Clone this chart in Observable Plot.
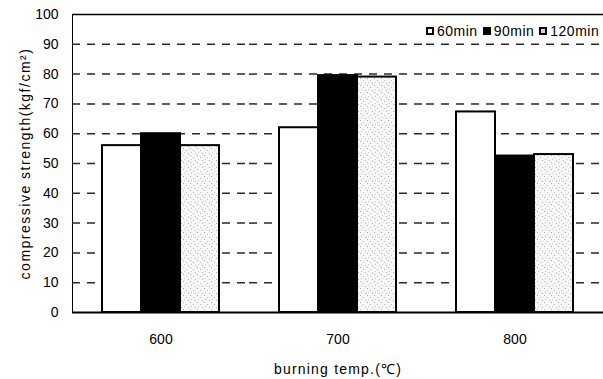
<!DOCTYPE html>
<html>
<head>
<meta charset="utf-8">
<script src="https://cdn.jsdelivr.net/npm/d3@7"></script>
<script src="https://cdn.jsdelivr.net/npm/@observablehq/plot@0.6"></script>
<style>
  html, body { margin: 0; padding: 0; background: white; }
  #wrap { position: relative; width: 603px; height: 379px; font-family: "Liberation Sans", Arial, sans-serif; }
  #legend { position: absolute; top: 23px; left: 426px; display: flex; align-items: center; font-size: 14px; letter-spacing: 0.5px; color: black; }
  #legend .item { display: flex; align-items: center; margin-right: 5px; }
  #legend .box { width: 8px; height: 8px; box-sizing: border-box; border: 2px solid black; margin-right: 3px; }
</style>
</head>
<body>
<div id="wrap"><div id="legend"></div></div>
<script>
const groups = ["600", "700", "800"];
const series = ["60min", "90min", "120min"];
const values60 = [56, 62, 67.3];
const values90 = [60, 79.5, 52.5];
const values120 = [56, 79, 53];
const yTicks = [0, 10, 20, 30, 40, 50, 60, 70, 80, 90, 100];
const gridTicks = [10, 20, 30, 40, 50, 60, 70, 80, 90];
const fills = ["white", "black", "url(#stipple)"];

const seriesValues = [values60, values90, values120];
const data = [];
groups.forEach((g, gi) => series.forEach((s, si) => data.push({group: g, series: s, value: seriesValues[si][gi]})));

const chart = Plot.plot({
  width: 603,
  height: 379,
  marginLeft: 72,
  marginRight: 0,
  marginTop: 14,
  marginBottom: 67,
  style: {fontFamily: "'Liberation Sans', Arial, sans-serif", fontSize: "14px", color: "black", background: "white", overflow: "visible"},
  fx: {domain: groups, padding: 0, axis: "bottom", tickSize: 0, tickPadding: 22, label: "burning temp.(℃)", labelAnchor: "center", labelOffset: 61, labelArrow: "none"},
  x: {domain: series, axis: null, paddingInner: 0, paddingOuter: 0.74},
  y: {domain: [0, 100], ticks: yTicks, tickSize: 0, tickPadding: 14, line: true, label: "compressive strength(kgf/cm²)", labelAnchor: "center", labelOffset: 52, labelArrow: "none"},
  color: {domain: series, range: fills},
  marks: [
    Plot.ruleY(gridTicks, {stroke: "#2a2a2a", strokeWidth: 1.5, strokeDasharray: "8,7"}),
    Plot.barY(data, {fx: "group", x: "series", y: "value", fill: "series", stroke: "black", strokeWidth: 2}),
    Plot.ruleY([100], {stroke: "black", strokeWidth: 1.5}),
    Plot.ruleY([0], {stroke: "black", strokeWidth: 2})
  ]
});

// stipple pattern for the 120min bars
const ns = "http://www.w3.org/2000/svg";
const defs = document.createElementNS(ns, "defs");
defs.innerHTML = '<pattern id="stipple" width="7" height="7" patternUnits="userSpaceOnUse">' +
  '<rect width="7" height="7" fill="#f7f7f7"/>' +
  '<rect x="1" y="1" width="1" height="1" fill="#aaa"/>' +
  '<rect x="4" y="3" width="1" height="1" fill="#bbb"/>' +
  '<rect x="2" y="5" width="1" height="1" fill="#c4c4c4"/>' +
  '<rect x="6" y="6" width="1" height="1" fill="#b0b0b0"/>' +
  '</pattern>';
chart.insertBefore(defs, chart.firstChild);

// letter spacing on axis labels, heavier axis line
chart.querySelectorAll('[aria-label="y-axis label"] text, [aria-label="y-axis label"]').forEach(n => n.setAttribute("letter-spacing", "1.5"));
chart.querySelectorAll('[aria-label="fx-axis label"] text, [aria-label="fx-axis label"]').forEach(n => n.setAttribute("letter-spacing", "1.2"));
chart.querySelectorAll('[aria-label="y-axis line"]').forEach(n => n.setAttribute("stroke-width", "2"));

document.getElementById("wrap").appendChild(chart);

// legend
const legend = document.getElementById("legend");
series.forEach((s, i) => {
  const item = document.createElement("span");
  item.className = "item";
  const box = document.createElement("span");
  box.className = "box";
  box.style.background = i === 2 ? "#d8d8d8" : fills[i];
  const label = document.createElement("span");
  label.textContent = s;
  item.appendChild(box);
  item.appendChild(label);
  legend.appendChild(item);
});
</script>
</body>
</html>
